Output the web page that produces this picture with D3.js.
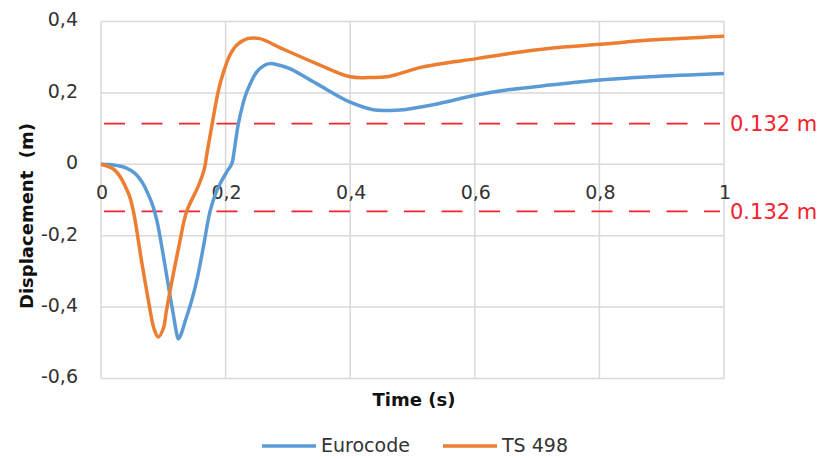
<!DOCTYPE html>
<html>
<head>
<meta charset="utf-8">
<script src="https://cdn.jsdelivr.net/npm/d3@7"></script>
<style>
  body { margin: 0; background: #fff; }
  svg text { font-family: "DejaVu Sans", "Open Sans", sans-serif; fill: #333; }
</style>
</head>
<body>
<div id="chart"></div>
<script>
// Eurocode series (time in s, displacement in m)
const euroTime = [0, 0.02, 0.04, 0.055, 0.066, 0.076, 0.083, 0.09, 0.1, 0.11, 0.117, 0.121, 0.124, 0.128, 0.135, 0.145, 0.155, 0.165, 0.175, 0.185, 0.194, 0.203, 0.21, 0.214, 0.22, 0.228, 0.234, 0.25, 0.262, 0.271, 0.285, 0.303, 0.346, 0.4, 0.437, 0.46, 0.48, 0.533, 0.603, 0.651, 0.721, 0.801, 0.881, 1.0];
const euroDisp = [0, -0.002, -0.01, -0.026, -0.05, -0.085, -0.115, -0.16, -0.255, -0.36, -0.43, -0.47, -0.489, -0.478, -0.44, -0.385, -0.315, -0.225, -0.132, -0.077, -0.045, -0.018, 0.002, 0.04, 0.109, 0.17, 0.203, 0.259, 0.277, 0.282, 0.278, 0.268, 0.226, 0.174, 0.153, 0.151, 0.152, 0.167, 0.194, 0.208, 0.222, 0.236, 0.245, 0.254];

// TS 498 series
const tsTime = [0, 0.0225, 0.044, 0.052, 0.065, 0.076, 0.085, 0.092, 0.1, 0.105, 0.113, 0.125, 0.1375, 0.156, 0.166, 0.17, 0.178, 0.188, 0.196, 0.207, 0.218, 0.235, 0.255, 0.287, 0.346, 0.4, 0.43, 0.459, 0.517, 0.603, 0.651, 0.721, 0.801, 0.881, 1.0];
const tsDisp = [0, -0.017, -0.081, -0.132, -0.27, -0.381, -0.46, -0.484, -0.46, -0.41, -0.335, -0.23, -0.132, -0.062, -0.012, 0.03, 0.109, 0.203, 0.255, 0.306, 0.334, 0.352, 0.352, 0.327, 0.282, 0.245, 0.243, 0.245, 0.273, 0.296, 0.309, 0.325, 0.336, 0.348, 0.359];

const seriesNames = ["Eurocode", "TS 498"];
const limitValues = [0.114, -0.132];
const limitLabels = ["0.132 m", "0.132 m"];
const xTicks = [0, 0.2, 0.4, 0.6, 0.8, 1];
const yTicks = [-0.6, -0.4, -0.2, 0, 0.2, 0.4];

const width = 825, height = 459;
const plotLeft = 101, plotRight = 724, plotTop = 21.5, plotBottom = 378.5;

const svg = d3.select("#chart").append("svg")
  .attr("width", width)
  .attr("height", height);

const x = d3.scaleLinear().domain([0, 1]).range([plotLeft, plotRight]);
const y = d3.scaleLinear().domain([-0.6, 0.4]).range([plotBottom, plotTop]);
const fmt = v => String(+v.toFixed(1)).replace(".", ",");

// grid
svg.append("g").selectAll("line").data(yTicks).join("line")
  .attr("x1", plotLeft).attr("x2", plotRight)
  .attr("y1", d => y(d)).attr("y2", d => y(d))
  .attr("stroke", "#d9d9d9").attr("stroke-width", 1.5);
svg.append("g").selectAll("line").data(xTicks).join("line")
  .attr("x1", d => x(d)).attr("x2", d => x(d))
  .attr("y1", plotTop).attr("y2", plotBottom)
  .attr("stroke", "#d9d9d9").attr("stroke-width", 1.5);

// y tick labels
svg.append("g").selectAll("text").data(yTicks).join("text")
  .attr("x", plotLeft - 23).attr("y", d => y(d) - 2)
  .attr("dy", "0.36em")
  .attr("text-anchor", "end")
  .style("font-size", "19px")
  .text(fmt);

// x tick labels (sit right under the zero line)
svg.append("g").selectAll("text").data(xTicks).join("text")
  .attr("x", d => x(d) + 1).attr("y", y(0) + 35)
  .attr("text-anchor", "middle")
  .style("font-size", "19px")
  .text(fmt);

// limit lines
svg.append("g").selectAll("line").data(limitValues).join("line")
  .attr("x1", plotLeft + 3).attr("x2", plotRight - 4)
  .attr("y1", d => y(d)).attr("y2", d => y(d))
  .attr("stroke", "#f5222d").attr("stroke-width", 1.6)
  .attr("stroke-dasharray", "21,16.5");
svg.append("g").selectAll("text").data(limitValues).join("text")
  .attr("x", plotRight + 6).attr("y", d => y(d))
  .attr("dy", "0.36em")
  .style("font-size", "21px")
  .style("fill", "#f5222d")
  .text((d, i) => limitLabels[i]);

// series
const line = d3.line().x(d => x(d[0])).y(d => y(d[1])).curve(d3.curveCatmullRom.alpha(0.5));
const series = [
  { name: seriesNames[0], color: "#5b9bd5", pts: d3.zip(euroTime, euroDisp) },
  { name: seriesNames[1], color: "#ed7d31", pts: d3.zip(tsTime, tsDisp) }
];
svg.append("g").selectAll("path").data(series).join("path")
  .attr("d", d => line(d.pts))
  .attr("fill", "none")
  .attr("stroke", d => d.color)
  .attr("stroke-width", 3.5)
  .attr("stroke-linejoin", "round");

// axis titles
svg.append("text")
  .attr("transform", "translate(33,216) rotate(-90)")
  .attr("text-anchor", "middle")
  .style("white-space", "pre")
  .style("font-size", "18px").style("font-weight", "bold").style("fill", "#111")
  .text("Displacement  (m)");
svg.append("text")
  .attr("x", 414).attr("y", 406)
  .attr("text-anchor", "middle")
  .style("font-size", "18px").style("font-weight", "bold").style("fill", "#111")
  .text("Time (s)");

// legend
const legendX = [262, 443];
const lg = svg.append("g").selectAll("g").data(series).join("g")
  .attr("transform", (d, i) => `translate(${legendX[i]},446)`);
lg.append("line").attr("x1", 0).attr("x2", 54)
  .attr("stroke", d => d.color).attr("stroke-width", 3.5);
lg.append("text").attr("x", 59).attr("dy", "0.3em")
  .style("font-size", "19px")
  .text(d => d.name);
</script>
</body>
</html>
